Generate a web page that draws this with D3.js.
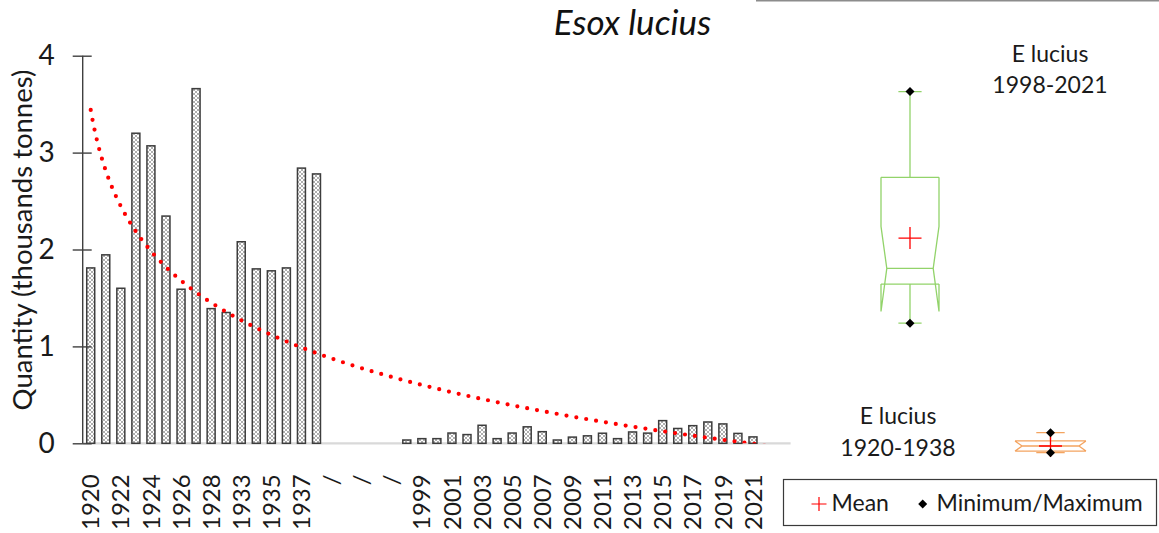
<!DOCTYPE html>
<html>
<head>
<meta charset="utf-8">
<script src="https://cdn.jsdelivr.net/npm/d3@7"></script>
<style>
  html, body { margin: 0; padding: 0; background: #fff; }
  svg { display: block; font-family: Lato, "Open Sans", sans-serif; }
</style>
</head>
<body>
<svg id="chart" width="1159" height="533"></svg>
<script>
// Annual landings of northern pike (thousands of tonnes)
const earlyYears  = ["1920","1921","1922","1923","1924","1925","1926","1927","1928","1929","1933","1934","1935","1936","1937","1938"];
const earlyValues = [1.81, 1.945, 1.60, 3.20, 3.07, 2.345, 1.59, 3.66, 1.39, 1.35, 2.08, 1.80, 1.78, 1.81, 2.84, 2.78];
const breakLabels = ["/", "", "/", "", "/"];
const lateYears   = ["1998","1999","2000","2001","2002","2003","2004","2005","2006","2007","2008","2009",
                     "2010","2011","2012","2013","2014","2015","2016","2017","2018","2019","2020","2021"];
const lateValues  = [0.034, 0.048, 0.048, 0.106, 0.090, 0.186, 0.048, 0.106, 0.170, 0.120, 0.034, 0.064,
                     0.077, 0.104, 0.048, 0.117, 0.105, 0.234, 0.153, 0.182, 0.220, 0.200, 0.102, 0.066];
const trailingLabels = ["", ""];

const yTicks = [0, 1, 2, 3, 4];

// Logarithmic trend line  y = a + b * ln(n), n = 1, 2, ... along the category axis
const trendIntercept = 3.44;
const trendSlope = -0.905;

// Box-plot summaries
const boxNames     = ["E lucius 1998-2021", "E lucius 1920-1938"];
const boxLabels    = [["E lucius", "1998-2021"], ["E lucius", "1920-1938"]];
const boxMin       = [1.240, -0.097];
const boxQ1        = [1.643, -0.080];
const boxNotchLow  = [1.360, -0.080];
const boxMedian    = [1.805, -0.028];
const boxNotchHigh = [2.238, 0.024];
const boxQ3        = [2.745, 0.024];
const boxMax       = [3.630, 0.110];
const boxMean      = [2.118, -0.028];
const boxColors    = ["#92d36a", "#f4a460"];

const legendItems = ["Mean", "Minimum/Maximum"];

// ---- assemble category axis ----
const labels = [...earlyYears, ...breakLabels, ...lateYears, ...trailingLabels];
const values = [...earlyValues, ...breakLabels.map(() => null), ...lateValues, ...trailingLabels.map(() => null)];
const idx = d3.range(labels.length);

const svg = d3.select("#chart");
const textColor = "#1a1a1a";

const plotLeft = 83.2, plotRight = 790.6, plotTop = 55.7, plotBottom = 443.3;

const x = d3.scaleBand().domain(idx).range([plotLeft, plotRight]).paddingInner(0.47).paddingOuter(0.235);
const y = d3.scaleLinear().domain([0, 4]).range([plotBottom, plotTop]);

// hatch fill for bars
const defs = svg.append("defs");
const pat = defs.append("pattern").attr("id", "hatch").attr("patternUnits", "userSpaceOnUse")
  .attr("width", 4).attr("height", 4);
pat.append("rect").attr("width", 4).attr("height", 4).attr("fill", "#fff");
pat.append("path").attr("d", "M0,0L4,4M4,0L0,4").attr("stroke", "#9a9a9a").attr("stroke-width", 0.8);
defs.append("clipPath").attr("id", "plotClip").append("rect")
  .attr("x", plotLeft).attr("y", 0).attr("width", plotRight - plotLeft).attr("height", plotBottom);

// top rule
svg.append("line").attr("x1", 756).attr("x2", 1159).attr("y1", 0.75).attr("y2", 0.75)
  .attr("stroke", "#8c8c8c").attr("stroke-width", 1.5);

// title
svg.append("text").attr("x", 632.5).attr("y", 35).attr("text-anchor", "middle")
  .attr("font-size", 35).attr("font-style", "italic").attr("font-weight", 400).attr("fill", "#111")
  .text("Esox lucius");

// x axis baseline
svg.append("line").attr("x1", plotLeft).attr("x2", plotRight).attr("y1", plotBottom).attr("y2", plotBottom)
  .attr("stroke", "#d9d9d9").attr("stroke-width", 2.2);

// bars
svg.append("g").selectAll("rect").data(idx.filter(i => values[i] != null)).join("rect")
  .attr("x", i => x(i)).attr("width", x.bandwidth())
  .attr("y", i => y(values[i])).attr("height", i => y(0) - y(values[i]))
  .attr("fill", "url(#hatch)").attr("stroke", "#3d3d3d").attr("stroke-width", 1.5);

// y axis
const yAxis = svg.append("g").attr("transform", `translate(${plotLeft - 0.5},0)`)
  .call(d3.axisLeft(y).tickValues(yTicks).tickFormat(d3.format("d")).tickSize(10).tickPadding(18));
yAxis.select(".domain").attr("stroke", "#404040").attr("stroke-width", 1.4).attr("d", `M0,${plotBottom}V${plotTop}`);
yAxis.selectAll(".tick line").attr("x1", -10).attr("x2", 9).attr("stroke", "#404040").attr("stroke-width", 1.4);
yAxis.selectAll(".tick text").attr("font-size", 28).attr("fill", textColor).attr("font-family", "Lato, sans-serif");

// x axis labels (every second category)
const xAxis = svg.append("g").attr("transform", `translate(0,${plotBottom})`)
  .call(d3.axisBottom(x).tickValues(idx.filter(i => i % 2 === 0)).tickFormat(i => labels[i]).tickSize(0));
xAxis.select(".domain").remove();
xAxis.selectAll(".tick text")
  .attr("font-size", 24).attr("fill", textColor).attr("font-family", "Lato, sans-serif")
  .attr("text-anchor", "end").attr("transform", "rotate(-90)")
  .attr("x", -31).attr("y", 0).attr("dy", "0.36em");

// y axis title
svg.append("text").attr("transform", `translate(31.5,240) rotate(-90)`)
  .attr("text-anchor", "middle").attr("font-size", 27.5).attr("fill", textColor)
  .text("Quantity (thousands tonnes)");

// trend line
const trendPts = d3.range(0, labels.length - 1 + 0.001, 0.1).map(n => ({
  x: x(0) + x.bandwidth() / 2 + n * x.step(),
  v: trendIntercept + trendSlope * Math.log(n + 1)
}));
svg.append("path").attr("clip-path", "url(#plotClip)")
  .datum(trendPts)
  .attr("d", d3.line().x(d => d.x).y(d => y(d.v)).curve(d3.curveLinear))
  .attr("fill", "none").attr("stroke", "#ff0000").attr("stroke-width", 4.2)
  .attr("stroke-linecap", "round").attr("stroke-dasharray", "0 10");

// ---- box plots ----
const bx = d3.scalePoint().domain(boxNames).range([910, 1050.5]);
const boxWidths = [58, 71];
function diamond(g, cx, cy) {
  g.append("path").attr("d", `M${cx},${cy - 4.5}L${cx + 4.5},${cy}L${cx},${cy + 4.5}L${cx - 4.5},${cy}Z`).attr("fill", "#000");
}
function plus(g, cx, cy, w, h, sw) {
  g.append("path").attr("d", `M${cx - w / 2},${cy}H${cx + w / 2}M${cx},${cy - h / 2}V${cy + h / 2}`)
    .attr("stroke", "#ff0000").attr("stroke-width", sw).attr("fill", "none");
}
boxNames.forEach((name, k) => {
  const g = svg.append("g");
  const cx = bx(name), w = boxWidths[k], xl = cx - w / 2, xr = cx + w / 2, ins = w * 0.1;
  const capW = w * 0.4;
  const c = boxColors[k];
  const yQ1 = y(boxQ1[k]), yQ3 = y(boxQ3[k]), yMed = y(boxMedian[k]);
  const yNL = y(boxNotchLow[k]), yNH = y(boxNotchHigh[k]);
  const p = d3.path();
  // whiskers
  p.moveTo(cx, yQ3); p.lineTo(cx, y(boxMax[k]));
  p.moveTo(cx - capW / 2, y(boxMax[k])); p.lineTo(cx + capW / 2, y(boxMax[k]));
  p.moveTo(cx, yQ1); p.lineTo(cx, y(boxMin[k]));
  p.moveTo(cx - capW / 2, y(boxMin[k])); p.lineTo(cx + capW / 2, y(boxMin[k]));
  // notched box
  p.moveTo(xl, yQ3); p.lineTo(xr, yQ3);
  p.moveTo(xr, yQ3); p.lineTo(xr, yNH); p.lineTo(xr - ins, yMed); p.lineTo(xr, yNL);
  p.moveTo(xl, yQ3); p.lineTo(xl, yNH); p.lineTo(xl + ins, yMed); p.lineTo(xl, yNL);
  p.moveTo(xl + ins, yMed); p.lineTo(xr - ins, yMed);
  p.moveTo(xl, yQ1); p.lineTo(xr, yQ1);
  p.moveTo(xl, yQ1); p.lineTo(xl, yNL);
  p.moveTo(xr, yQ1); p.lineTo(xr, yNL);
  g.append("path").attr("d", p.toString()).attr("fill", "none").attr("stroke", c).attr("stroke-width", 1.3);
  plus(g, cx, y(boxMean[k]), 23, 22, 1.3);
  diamond(g, cx, y(boxMax[k]));
  diamond(g, cx, y(boxMin[k]));
});

// box-plot captions
const captionPos = [[1050, 61.7], [898, 424.3]];
boxLabels.forEach((lines, k) => {
  const t = svg.append("text").attr("text-anchor", "middle").attr("font-size", 23).attr("fill", textColor);
  lines.forEach((s, j) => t.append("tspan").attr("x", captionPos[k][0]).attr("y", captionPos[k][1] + j * 31.7).text(s));
});

// legend
const lg = svg.append("g");
lg.append("rect").attr("x", 783.5).attr("y", 479.5).attr("width", 373).attr("height", 46)
  .attr("fill", "#fff").attr("stroke", "#3a3a3a").attr("stroke-width", 1.2);
plus(lg, 819, 504, 15, 14, 1.2);
lg.append("text").attr("x", 831.5).attr("y", 511).attr("font-size", 23).attr("fill", textColor).text(legendItems[0]);
diamond(lg, 922.7, 504);
lg.append("text").attr("x", 936.5).attr("y", 511).attr("font-size", 23).attr("fill", textColor).text(legendItems[1]);
</script>
</body>
</html>
